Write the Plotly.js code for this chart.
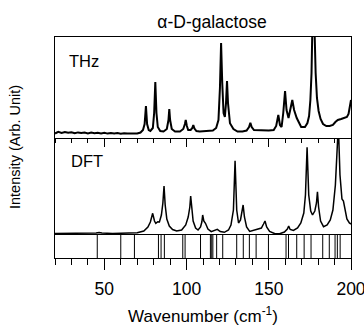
<!DOCTYPE html>
<html>
<head>
<meta charset="utf-8">
<script src="https://cdn.plot.ly/plotly-3.0.1.min.js"></script>
<style>html,body{margin:0;padding:0;background:#fff}#chart{width:364px;height:326px}</style>
</head>
<body>
<div id="chart"></div>
<script>
// THz measured spectrum (wavenumber, intensity arb.)
const thzX = [20,22,24,26,28,30,32,34,36,38,40,42,44,46,48,50,52,54,56,58,60,62,64,66,68,70,72,73.5,74.5,75.3,76,77,78,79.5,80.3,81,81.7,82.5,84,86,88,89,89.5,90,91,93,96,98,99,99.5,100.2,101,102.5,103.5,104.1,104.8,106,108,112,116,118,119.4,120.3,121,121.7,122.5,123.3,124,124.6,125.2,126.4,128.5,131,134,136.5,138,138.8,139.6,141,145,150,153,154.5,155.8,156.8,157.8,158.8,159.9,160.8,162,163.2,164.3,165.4,167,169.7,172,173.5,174.5,175.3,176,176.5,177.8,178.5,179.3,180.3,181.5,183,185,187,189,190.5,192,194,196,197.5,198.5,199.3,200];
const thzY = [4.5,6.2,5,6,5.2,5.8,4.8,5.6,5,5.4,4.6,5.5,4.8,5.2,4.6,5.3,4.4,5,4.5,4.9,4.3,4.8,4.4,4.6,4.3,4.5,5.5,8,14,32,14,8,7,10,25,56,25,11,7,6.5,9,18,29,18,9,6.5,6.5,9,14,18,12,8,8,10,13,9.5,7,6.5,7,7.5,10,18,50,95,55,25,21,35,57,35,14.7,9,6.5,6.5,7.5,11,15.3,11,8,7.5,7.5,8,12,23,13,11,25,47,28,20,28,38,28,20,11,11,15,22,38,65,110,110,65,40,27,19,14,12,12,13,16,18,19,20,21,24,30,38,47];

// DFT calculated spectrum
const dftX = [20,30,40,45,46.8,48.5,55,65,70,74,76.5,78,79.4,80.5,81.3,82.5,83.5,84.7,85.6,86.3,87,88,89.5,91.5,94,97,99.5,101,102,102.5,103,104,105.5,107,108.5,109.3,109.8,110.5,111.5,113,115,117,118.7,120.5,123,125.5,127,128.5,129.5,130.5,131.6,132.8,133.7,134.4,135.2,136.5,138.4,141,143,145.5,146.8,147.7,148.7,150.5,153.8,156.6,159.5,161.3,162.1,163,165,167.5,169.5,171.3,172.3,173.3,174.3,175.5,176.6,178,179,179.6,180.3,181.5,183.3,185.5,187.4,189,190.5,191.3,192.3,193.3,194.5,195.4,196.3,197.5,199,200];
const dftY = [1.5,1.5,1.6,2,2.6,2,1.6,1.8,2.3,4,8,13,21.7,14,11.7,13.3,13,20,32,49,30,16,9,5.5,4,5,10,18,28,39,27,14,7,5,8,13,20,14,11.7,6,3.3,4.5,5.7,3.5,2.7,5,10,25,74.3,25,12,15,24,30,18,8,3.5,5,5.5,7,11,14,8,3.5,1.2,1.2,3,6,9,5.5,4.5,7,12,22,40,87.7,40,24,20,24,32,43.3,28,14,8.3,10,15,25,50,110,110,60,36,34,25,16,12,11];

// DFT mode frequencies (stick spectrum)
const sticks = [45.7,60,68.3,82.9,84.5,86.5,97.7,99.1,108.5,114.5,115.3,116,118.3,122,130.5,134.5,138.2,142.3,149.8,160.5,162,167,171.5,175.7,182.8,186.8,190.3,191.7,193.4];

const panelLabels = ["THz","DFT"];
const chartTitle = "\u03b1-D-galactose";
const xTitle = "Wavenumber (cm<sup>-1</sup>)";
const yTitle = "Intensity (Arb. Unit)";

const sx = [], sy = [];
sticks.forEach(f => { sx.push(f, f, null); sy.push(0, 1, null); });

const FONT = "Arial, 'Liberation Sans', sans-serif";
const traces = [
  {x: thzX, y: thzY, xaxis: 'x2', yaxis: 'y', mode: 'lines', line: {color: '#000', width: 2}, hoverinfo: 'skip'},
  {x: dftX, y: dftY, xaxis: 'x', yaxis: 'y2', mode: 'lines', line: {color: '#000', width: 1.5}, hoverinfo: 'skip'},
  {x: sx, y: sy, xaxis: 'x', yaxis: 'y3', mode: 'lines', line: {color: '#000', width: 1}, hoverinfo: 'skip'}
];

const d1 = 23/221, d2 = 120/221;
const layout = {
  width: 364, height: 326,
  margin: {l: 55, r: 13, t: 37, b: 68},
  paper_bgcolor: '#fff', plot_bgcolor: '#fff',
  showlegend: false,
  font: {family: FONT, size: 15, color: '#000'},
  title: {text: chartTitle, font: {family: FONT, size: 17.5, color: '#000'}, xref: 'container', x: 212/364, xanchor: 'center', yref: 'container', y: 1 - 22/326, yanchor: 'middle'},
  xaxis: {domain: [0, 1], anchor: 'y3', range: [20, 200.0001], showgrid: false, zeroline: false,
    showline: true, linecolor: '#000', linewidth: 1, mirror: true,
    ticks: 'outside', tick0: 0, dtick: 50, ticklen: 11, tickwidth: 1, tickcolor: '#000',
    minor: {dtick: 10, tick0: 0, ticks: 'outside', ticklen: 6, tickwidth: 1, tickcolor: '#000'},
    ticklabeloverflow: 'allow', ticklabelstandoff: 4,
    tickfont: {family: FONT, size: 17.5, color: '#000'},
    title: {text: xTitle, font: {family: FONT, size: 17, color: '#000'}, standoff: 12}},
  xaxis2: {domain: [0, 1], anchor: 'y', range: [20, 200.0001], showgrid: false, zeroline: false,
    showline: true, linecolor: '#000', linewidth: 1, mirror: true,
    ticks: 'outside', tick0: 0, dtick: 50, ticklen: 8, tickwidth: 1, tickcolor: '#000',
    minor: {dtick: 10, tick0: 0, ticks: 'outside', ticklen: 4, tickwidth: 1, tickcolor: '#000'},
    showticklabels: false},
  yaxis: {domain: [d2, 1], anchor: 'x2', range: [0, 101], showgrid: false, zeroline: false,
    showline: true, linecolor: '#000', linewidth: 1, mirror: true, ticks: '', showticklabels: false},
  yaxis2: {domain: [d1, d2], anchor: 'x', range: [0, 97], showgrid: false, zeroline: false,
    showline: true, linecolor: '#000', linewidth: 1, mirror: true, ticks: '', showticklabels: false},
  yaxis3: {domain: [0, d1], anchor: 'x', range: [0, 1], showgrid: false, zeroline: false,
    showline: true, linecolor: '#000', linewidth: 1, mirror: true, ticks: '', showticklabels: false},
  annotations: [
    {text: panelLabels[0], xref: 'paper', yref: 'paper', x: 12/296, y: (258-61)/221, xanchor: 'left', yanchor: 'middle', showarrow: false, font: {family: FONT, size: 16.5, color: '#000'}},
    {text: panelLabels[1], xref: 'paper', yref: 'paper', x: 14/296, y: (258-161)/221, xanchor: 'left', yanchor: 'middle', showarrow: false, font: {family: FONT, size: 16.5, color: '#000'}},
    {text: yTitle, xref: 'paper', yref: 'paper', x: (15-55)/296, y: (258-147)/221, xanchor: 'center', yanchor: 'middle', textangle: -90, showarrow: false, font: {family: FONT, size: 14.5, color: '#000'}}
  ]
};
Plotly.newPlot('chart', traces, layout, {staticPlot: true, displayModeBar: false});
</script>
</body>
</html>
